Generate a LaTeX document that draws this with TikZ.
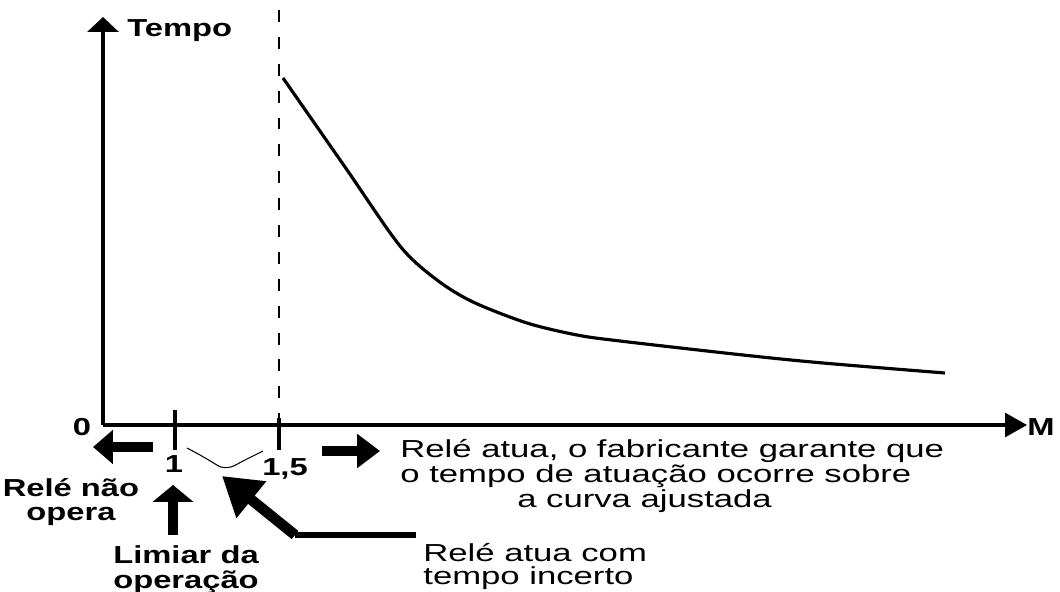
\documentclass[tikz,border=0pt]{standalone}
\usepackage{fontspec}
\newfontfamily\regfont{Liberation Sans}[FakeStretch=1.41]
\newfontfamily\boldfont{Liberation Sans}[FakeStretch=1.33]
\usetikzlibrary{arrows.meta}

\tikzset{
  lbl/.style={inner sep=0pt, font=\boldfont\bfseries\fontsize{14}{13.2}\selectfont},
  txt/.style={inner sep=0pt, align=left, font=\regfont\fontsize{14}{12.8}\selectfont},
  eixo/.style={line width=1.8pt},
  marca/.style={line width=1.8pt},
  seta/.style={line width=5.2pt}
}

\begin{document}
\begin{tikzpicture}[x=0.02cm, y=-0.02cm]
\useasboundingbox (0,0) rectangle (1060,591);

% Axes
\coordinate (O) at (103,425);
\coordinate (ytop) at (103,17);
\coordinate (xend) at (1027,425);
\draw[eixo, -{Triangle[length=8.5pt, width=17.6pt]}] (O) -- (ytop);
\draw[eixo, -{Triangle[length=12.5pt, width=13.6pt]}] (O) -- (xend);

% Marks at 1 and 1,5
\draw[marca] (175,410) -- (175,450);
\draw[marca] (279,418) -- (279,450);
\draw[line width=1.7pt, dash pattern=on 6.8pt off 8.5pt] (279,10) -- (279,418);

% Curve
\draw[line width=1.8pt, line join=round] plot[smooth, tension=0.5] coordinates {
  (283,78) (345,167) (400,246) (437,280) (473,302) (527,323) (577,335)
  (620,341) (743,355) (823,363) (945,373)};

% Uncertain zone
\draw[line width=0.6pt] plot[smooth, tension=0.5] coordinates {
  (187,448) (200,455) (212,462) (221,467) (231,467) (245,460) (263,451)};

% Labels
\node[lbl, anchor=base west] (tempo) at (127,37) {Tempo};
\node[lbl, anchor=base] (zero) at (82,435) {0};
\node[lbl, anchor=base] (eme) at (1041,435) {M};
\node[lbl, anchor=base] (um) at (174,472) {1};
\node[lbl, anchor=base] (umcinco) at (285,475) {1,5};

\node[lbl, anchor=base, align=center] (naoopera) at (71,520) {Relé não\\opera};
\node[lbl, anchor=base, align=center, font=\boldfont\bfseries\fontsize{14}{14.2}\selectfont]
  (limiar) at (186,588) {Limiar da\\operação};
\node[txt, anchor=base west] (atua) at (400,507)
  {Relé atua, o fabricante garante que\\o tempo de atuação ocorre sobre\\\hspace*{2.34cm}a curva ajustada};
\node[txt, anchor=base west, font=\regfont\fontsize{14}{12.6}\selectfont]
  (incerto) at (423,584) {Relé atua com\\tempo incerto};

% Pointers
\coordinate (esqA) at (153,447);
\coordinate (esqB) at (93,447);
\coordinate (dirA) at (322,451);
\coordinate (dirB) at (380,451);
\coordinate (cimaA) at (173,535);
\coordinate (cimaB) at (173,485);
\coordinate (cauda) at (416,535);
\coordinate (joelho) at (295,535);
\coordinate (zona) at (222,476);

\draw[seta, -{Triangle[length=11.3pt, width=18.7pt]}] (esqA) -- (esqB);
\draw[seta, -{Triangle[length=13pt, width=18.7pt]}] (dirA) -- (dirB);
\draw[seta, -{Triangle[length=9.6pt, width=22.7pt]}] (cimaA) -- (cimaB);
\draw[line width=3pt] (cauda) -- (joelho);
\draw[line width=6pt, -{Triangle[length=21.5pt, width=25.5pt]}] (joelho) -- (zona);
\end{tikzpicture}
\end{document}
